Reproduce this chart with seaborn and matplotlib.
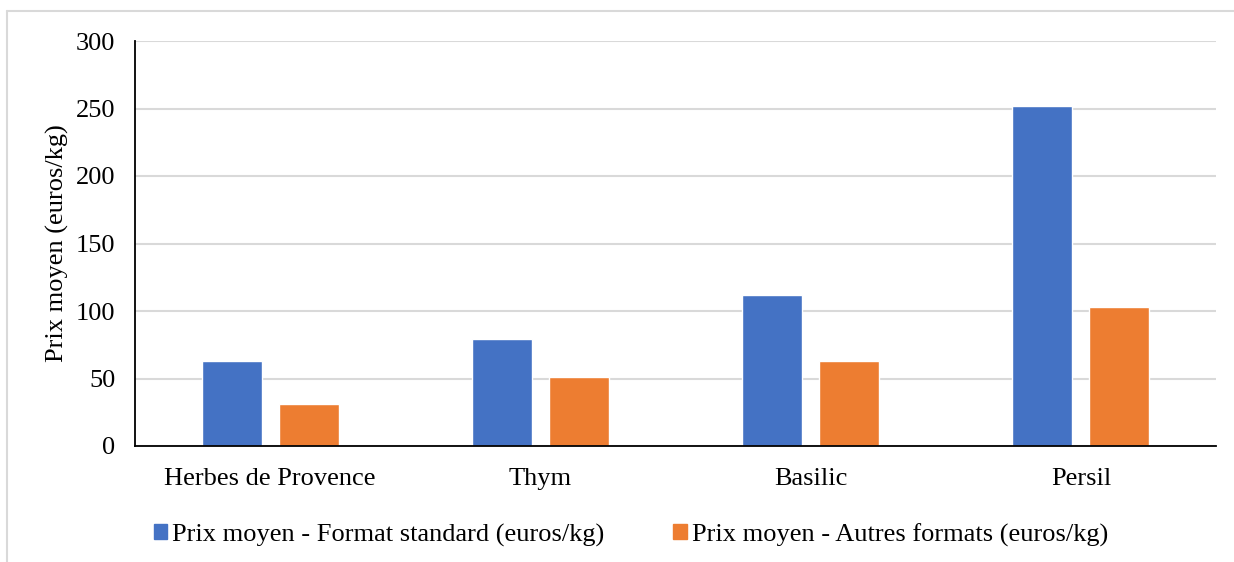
import matplotlib
matplotlib.use('Agg')
import matplotlib.pyplot as plt
from matplotlib.lines import Line2D
import seaborn as sns
import pandas as pd

categories = ['Herbes de Provence', 'Thym', 'Basilic', 'Persil']
standard = [63, 79, 112, 252]
autres = [31, 51, 63, 103]
series_names = ['Prix moyen - Format standard (euros/kg)',
                'Prix moyen - Autres formats (euros/kg)']
colors = ['#4472C4', '#ED7D31']

df = pd.DataFrame({
    'cat': categories * 2,
    'val': standard + autres,
    'serie': [series_names[0]] * 4 + [series_names[1]] * 4,
})

sns.set_theme(style='white')
plt.rcParams['font.family'] = ['Liberation Serif', 'DejaVu Serif']
fs = 19

fig = plt.figure(figsize=(12.34, 5.62), dpi=100)
ax = fig.add_axes([135 / 1234, 1 - 446 / 562, (1216 - 135) / 1234, (446 - 41) / 562])

sns.barplot(data=df, x='cat', y='val', hue='serie', palette=colors,
            width=0.57, gap=0.22, ax=ax, saturation=1, legend=False)

ax.set_ylim(0, 300)
ax.set_yticks(range(0, 301, 50))
ax.set_xlim(-0.5, 3.5)
ax.yaxis.grid(True, color='#d9d9d9', linewidth=1.5)
ax.set_axisbelow(True)
for s in ['top', 'right']:
    ax.spines[s].set_visible(False)
ax.spines['left'].set_color('black')
ax.spines['bottom'].set_color('black')
ax.spines['left'].set_linewidth(1.3)
ax.spines['bottom'].set_linewidth(1.3)
ax.tick_params(axis='both', length=0, labelsize=fs, colors='black')
ax.tick_params(axis='y', pad=14)
ax.tick_params(axis='x', pad=16)
ax.set_xlabel('')
ax.set_ylabel('Prix moyen (euros/kg)', fontsize=fs, color='black', labelpad=5)

handles = [plt.Rectangle((0, 0), 1, 1, color=c) for c in colors]
fig.legend(handles, series_names, loc='center', bbox_to_anchor=(631 / 1234, 1 - 535 / 562),
           ncol=2, frameon=False, fontsize=fs, labelcolor='black', handlelength=0.5,
           handleheight=0.5, handletextpad=0.2, columnspacing=2.6)

# light frame like the Excel chart area
fig.add_artist(Line2D([7 / 1234, 1], [1 - 11 / 562, 1 - 11 / 562], color='#d9d9d9', linewidth=1.5))
fig.add_artist(Line2D([7 / 1234, 7 / 1234], [0, 1 - 11 / 562], color='#d9d9d9', linewidth=1.5))

fig.savefig('out.png', dpi=100)
